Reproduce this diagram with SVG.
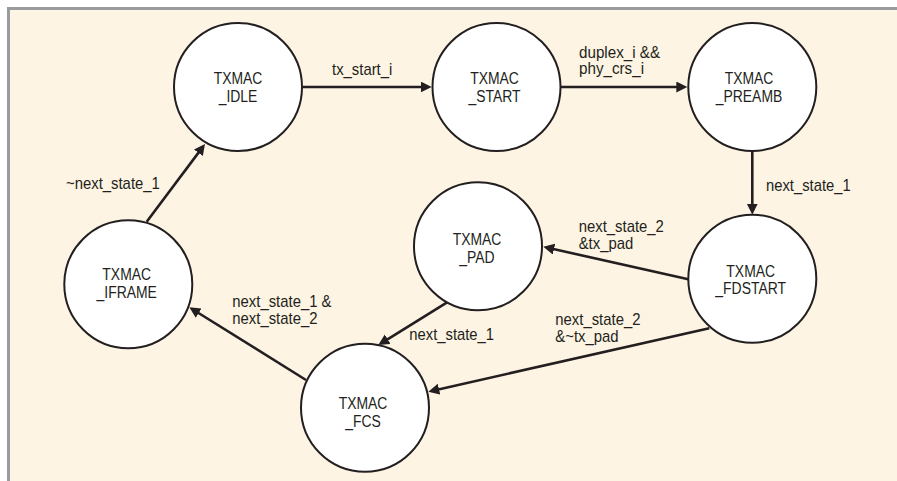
<svg xmlns="http://www.w3.org/2000/svg" width="897" height="481" viewBox="0 0 897 481">
<defs>
<style>
.bg{fill:#fdf4e3}
.frame{stroke:#9a9b9f;stroke-width:3;fill:none}
.node circle{fill:#ffffff;stroke:#231f20;stroke-width:2}
.node text{font-family:"Liberation Sans",Arial,sans-serif;font-size:17px;fill:#231f20;text-anchor:middle}
.edge{stroke:#231f20;stroke-width:2.6;fill:none;marker-end:url(#arr)}
.lbl{font-family:"Liberation Sans",Arial,sans-serif;font-size:16px;fill:#231f20}
</style>
<marker id="arr" markerUnits="userSpaceOnUse" markerWidth="12" markerHeight="12" refX="3" refY="5.5" orient="auto">
<path d="M0,0 L11,5.5 L0,11 z" fill="#231f20"/>
</marker>
</defs>
<rect x="0" y="0" width="897" height="481" fill="#ffffff"/>
<rect class="bg" x="8.5" y="8.5" width="888.5" height="472.5"/>
<path class="frame" d="M8.5,481 L8.5,8.5 L897,8.5"/>

<g id="connectors">
<line class="edge" x1="302.7" y1="87" x2="423.7" y2="87"/>
<line class="edge" x1="560.7" y1="87" x2="679.3" y2="87"/>
<line class="edge" x1="752.3" y1="151" x2="752.3" y2="206.7"/>
<line class="edge" x1="688.3" y1="279.3" x2="551.1" y2="248.5"/>
<line class="edge" x1="709.3" y1="328.3" x2="436.1" y2="389.9"/>
<line class="edge" x1="448.3" y1="301.7" x2="385.1" y2="340.8"/>
<line class="edge" x1="306" y1="380" x2="196.1" y2="311.5"/>
<line class="edge" x1="146.7" y1="221.7" x2="200.2" y2="150.4"/>
<text class="lbl" transform="translate(332,75) scale(0.93,1)">tx_start_i</text>
<text class="lbl" transform="translate(579,57.5) scale(0.95,1)"><tspan x="0" y="0">duplex_i &amp;&amp;</tspan><tspan x="0" y="17">phy_crs_i</tspan></text>
<text class="lbl" transform="translate(766,190.5) scale(0.925,1)">next_state_1</text>
<text class="lbl" transform="translate(578.7,232.3) scale(0.93,1)"><tspan x="0" y="0">next_state_2</tspan><tspan x="0" y="16.7">&amp;tx_pad</tspan></text>
<text class="lbl" transform="translate(555.3,325.3) scale(0.93,1)"><tspan x="0" y="0">next_state_2</tspan><tspan x="0" y="16.4">&amp;~tx_pad</tspan></text>
<text class="lbl" transform="translate(409.3,340) scale(0.925,1)">next_state_1</text>
<text class="lbl" transform="translate(232.3,307.3) scale(0.93,1)"><tspan x="0" y="0">next_state_1 &amp;</tspan><tspan x="0" y="17">next_state_2</tspan></text>
<text class="lbl" transform="translate(66,189.3) scale(0.93,1)">~next_state_1</text>
</g>

<g id="TXMAC_IDLE" class="node">
<circle cx="238" cy="87" r="64"/>
<text transform="translate(238,84.3) scale(0.82,1)"><tspan x="0" y="0">TXMAC</tspan><tspan x="0" y="17.4">_IDLE</tspan></text>
</g>
<g id="TXMAC_START" class="node">
<circle cx="496.5" cy="87" r="64"/>
<text transform="translate(494.5,84.3) scale(0.82,1)"><tspan x="0" y="0">TXMAC</tspan><tspan x="0" y="17.4">_START</tspan></text>
</g>
<g id="TXMAC_PREAMB" class="node">
<circle cx="752.3" cy="87" r="64"/>
<text transform="translate(749,84.3) scale(0.82,1)"><tspan x="0" y="0">TXMAC</tspan><tspan x="0" y="17.4">_PREAMB</tspan></text>
</g>
<g id="TXMAC_FDSTART" class="node">
<circle cx="752.3" cy="278.7" r="64"/>
<text transform="translate(750.7,277.3) scale(0.82,1)"><tspan x="0" y="0">TXMAC</tspan><tspan x="0" y="17.2">_FDSTART</tspan></text>
</g>
<g id="TXMAC_PAD" class="node">
<circle cx="478" cy="246.3" r="64"/>
<text transform="translate(477,245) scale(0.82,1)"><tspan x="0" y="0">TXMAC</tspan><tspan x="0" y="17.6">_PAD</tspan></text>
</g>
<g id="TXMAC_IFRAME" class="node">
<circle cx="128.3" cy="284.3" r="64"/>
<text transform="translate(126.7,280) scale(0.82,1)"><tspan x="0" y="0">TXMAC</tspan><tspan x="0" y="17.6">_IFRAME</tspan></text>
</g>
<g id="TXMAC_FCS" class="node">
<circle cx="365" cy="407.7" r="64"/>
<text transform="translate(363,409) scale(0.82,1)"><tspan x="0" y="0">TXMAC</tspan><tspan x="0" y="17.6">_FCS</tspan></text>
</g>
</svg>
